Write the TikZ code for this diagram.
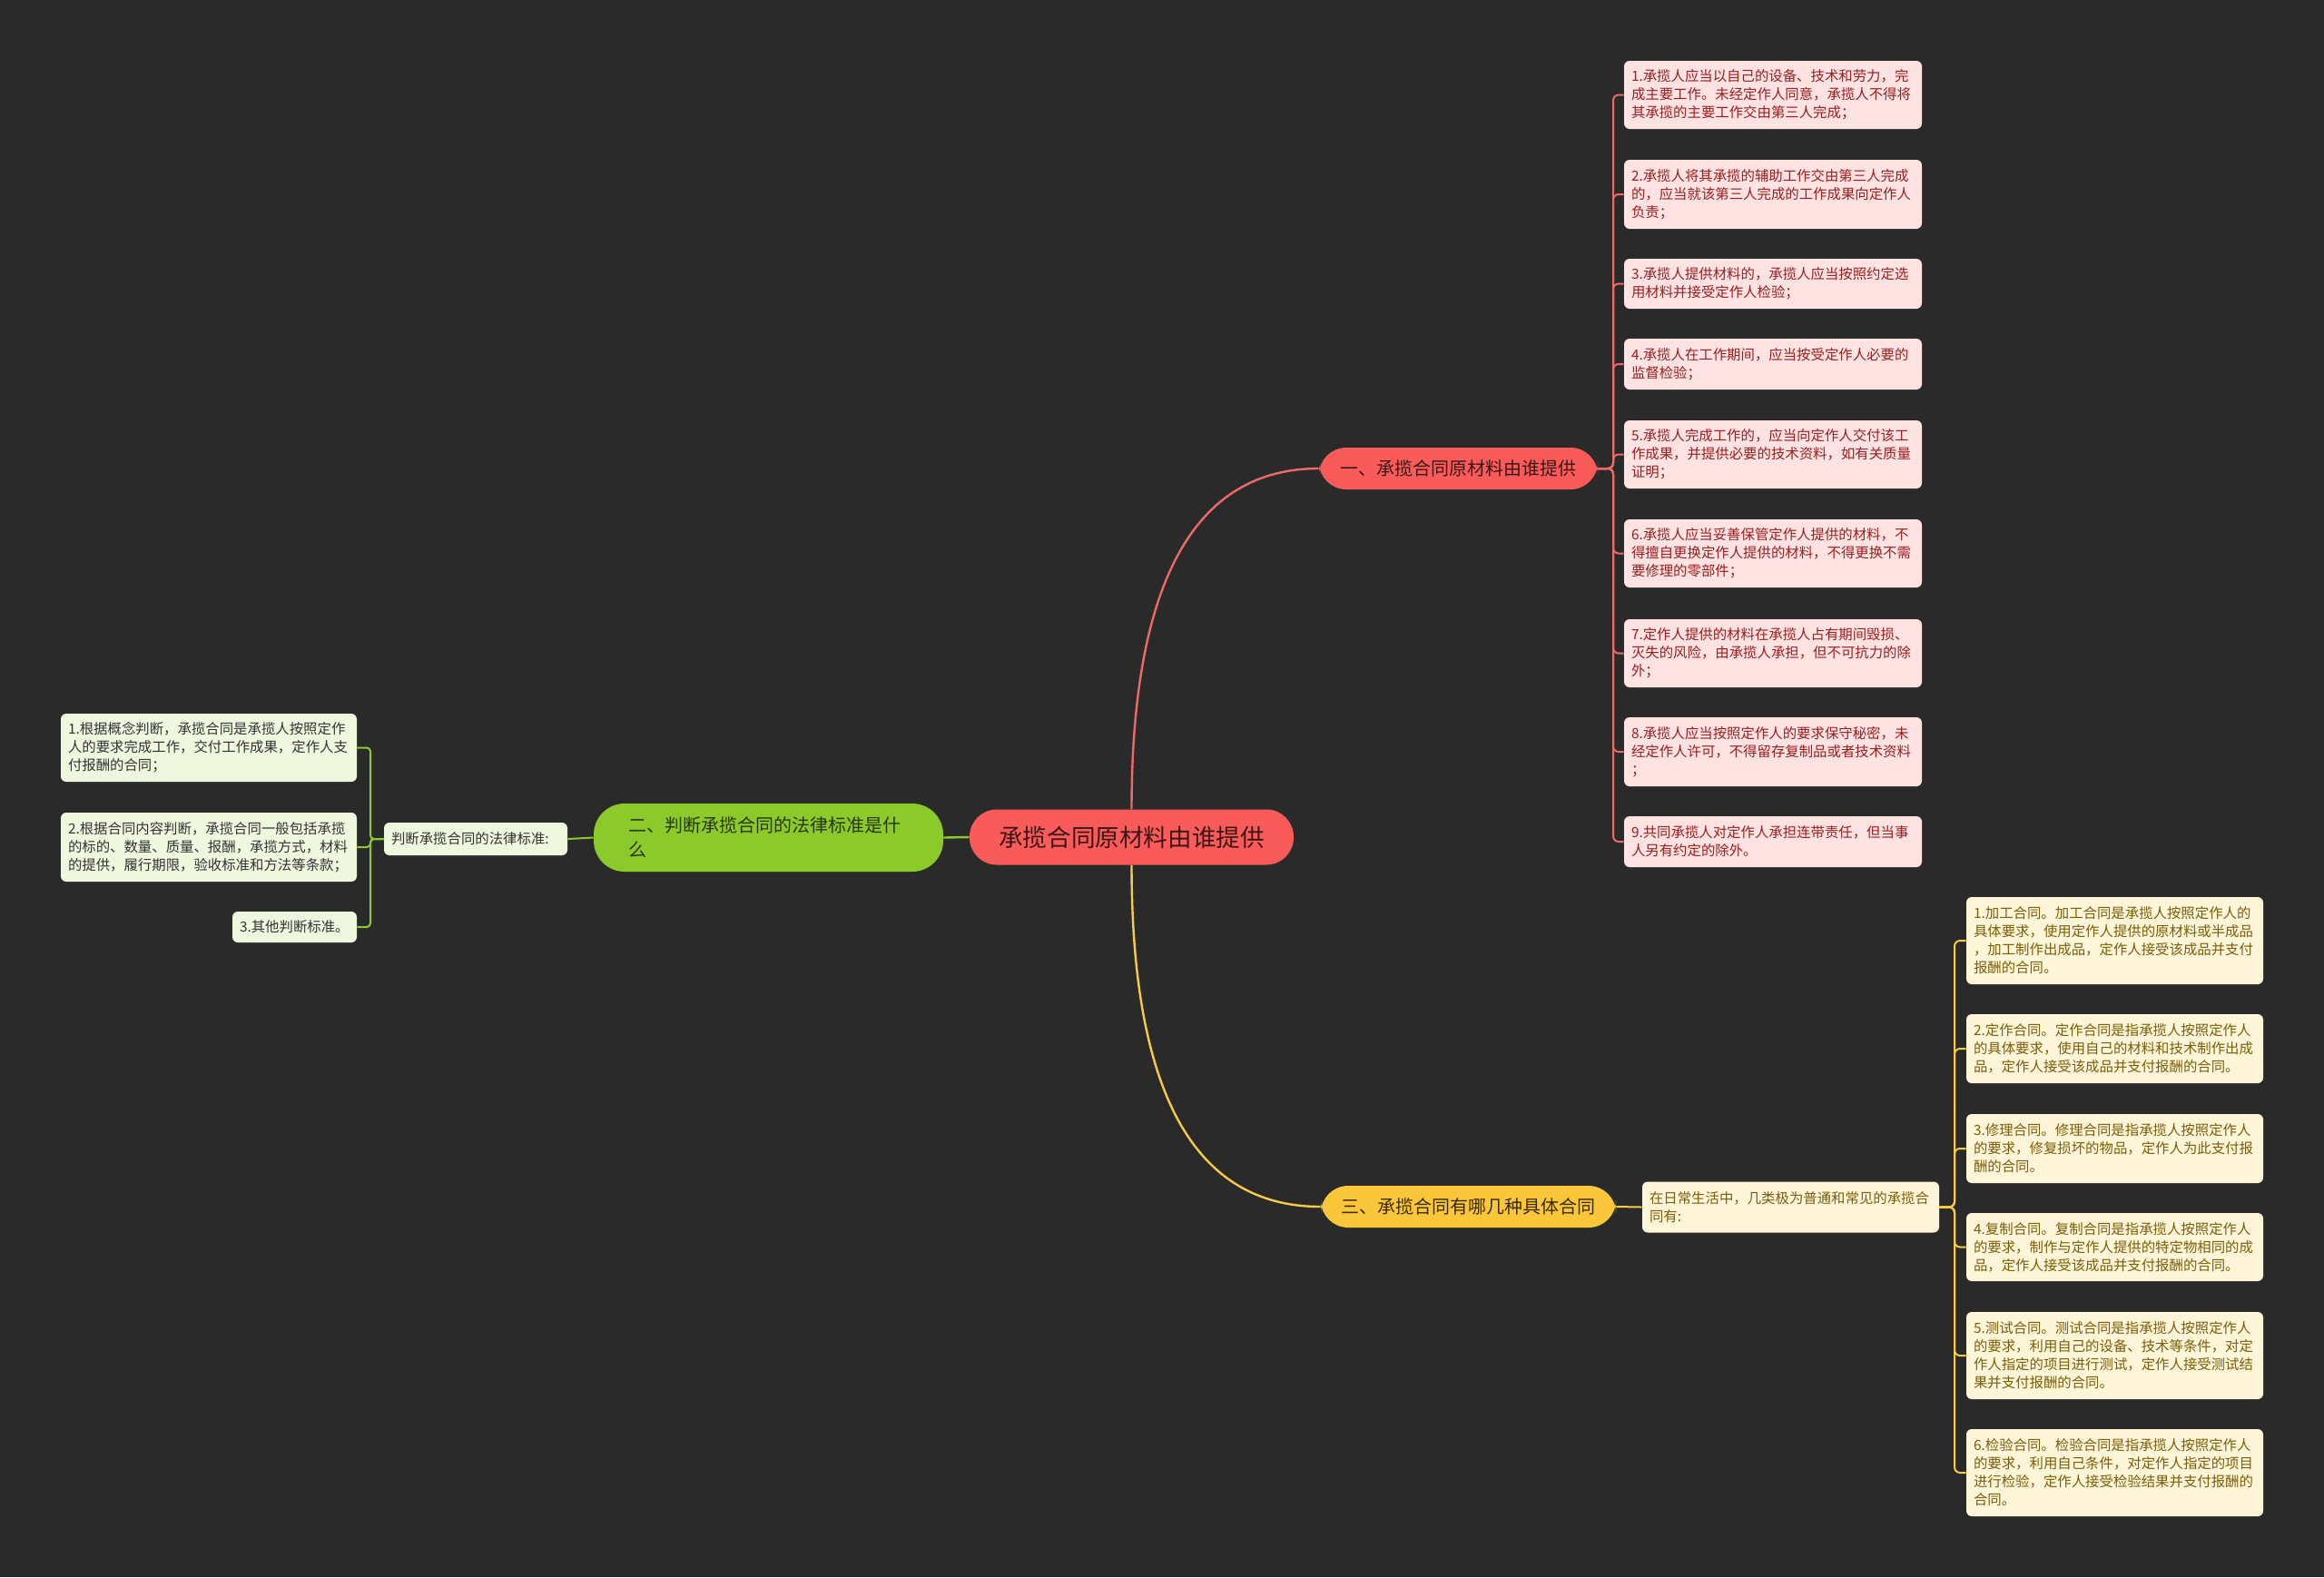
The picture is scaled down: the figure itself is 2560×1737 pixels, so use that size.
\documentclass[tikz,border=0pt]{standalone}
\usepackage{fontspec}
\setmainfont{Noto Sans CJK SC}
\definecolor{bgc}{HTML}{2A2A2A}
\definecolor{redF}{HTML}{F95B5B}
\definecolor{redT}{HTML}{3D1515}
\definecolor{greenF}{HTML}{8CC92A}
\definecolor{greenT}{HTML}{26380C}
\definecolor{yelF}{HTML}{FAC63A}
\definecolor{yelT}{HTML}{3B2A00}
\definecolor{pinkF}{HTML}{FFE2E2}
\definecolor{pinkT}{HTML}{9A1F1F}
\definecolor{creamF}{HTML}{FFF5D8}
\definecolor{creamT}{HTML}{7B5E0B}
\definecolor{lgF}{HTML}{EFF7DF}
\definecolor{lgT}{HTML}{333333}
\definecolor{lnR}{HTML}{EE6A6A}
\definecolor{lnG}{HTML}{8CC92A}
\definecolor{lnY}{HTML}{F6CC44}
\begin{document}
\begin{tikzpicture}[x=0.5pt,y=-0.5pt,
  mainbox/.style={rounded corners=15pt, inner sep=0pt, align=center},
  leafbox/.style={rounded corners=3pt, inner xsep=4pt, inner ysep=0pt, align=left,
    font=\fontsize{7.7}{10}\selectfont},
  leafR/.style={leafbox, fill=pinkF, text=pinkT, text width=156pt},
  leafY/.style={leafbox, fill=creamF, text=creamT, text width=155.5pt},
  leafG/.style={leafbox, fill=lgF, text=lgT, text width=155pt},
  lineR/.style={draw=lnR, line width=1pt},
  lineG/.style={draw=lnG, line width=1pt},
  lineY/.style={draw=lnY, line width=1pt}]
\fill[bgc] (0,0) rectangle (2560,1737);
\useasboundingbox (0,0) rectangle (2560,1737);

% main nodes
\node[mainbox, fill=redF, text=redT, minimum width=178.5pt, minimum height=30.5pt,
  font=\fontsize{13.3}{16}\selectfont] (c) at (1246.5,922) {承揽合同原材料由谁提供};
\node[mainbox, fill=redF, text=redT, minimum width=153.5pt, minimum height=23pt,
  font=\fontsize{10}{13}\selectfont] (b1) at (1606.5,516) {一、承揽合同原材料由谁提供};
\node[mainbox, rounded corners=17pt, fill=greenF, text=greenT, align=left, text width=154pt,
  inner xsep=19.25pt, inner ysep=0pt, minimum height=37.5pt,
  font=\fontsize{10}{13.5}\selectfont] (b2) at (846.5,922.5) {二、判断承揽合同的法律标准是什\\么};
\node[mainbox, fill=yelF, text=yelT, minimum width=162.5pt, minimum height=23pt,
  font=\fontsize{10}{13}\selectfont] (b3) at (1617.5,1329) {三、承揽合同有哪几种具体合同};

% sub nodes
\node[leafbox, fill=creamF, text=creamT, text width=155.5pt, minimum height=28pt] (s3) at (1972.5,1329.5)
  {在日常生活中，几类极为普通和常见的承揽合\\同有:};
\node[leafbox, fill=lgF, text=lgT, text width=93pt, minimum height=18pt] (j) at (524,924)
  {判断承揽合同的法律标准:};

% red leaves
\node[leafR, minimum height=37.5pt] (r1) at (1953,104.5) {1.承揽人应当以自己的设备、技术和劳力，完\\成主要工作。未经定作人同意，承揽人不得将\\其承揽的主要工作交由第三人完成；};
\node[leafR, minimum height=38pt] (r2) at (1953,214) {2.承揽人将其承揽的辅助工作交由第三人完成\\的，应当就该第三人完成的工作成果向定作人\\负责；};
\node[leafR, minimum height=27.5pt] (r3) at (1953,312.5) {3.承揽人提供材料的，承揽人应当按照约定选\\用材料并接受定作人检验；};
\node[leafR, minimum height=28pt] (r4) at (1953,401) {4.承揽人在工作期间，应当按受定作人必要的\\监督检验；};
\node[leafR, minimum height=37.5pt] (r5) at (1953,500.5) {5.承揽人完成工作的，应当向定作人交付该工\\作成果，并提供必要的技术资料，如有关质量\\证明；};
\node[leafR, minimum height=37.5pt] (r6) at (1953,609.5) {6.承揽人应当妥善保管定作人提供的材料，不\\得擅自更换定作人提供的材料，不得更换不需\\要修理的零部件；};
\node[leafR, minimum height=37.5pt] (r7) at (1953,719.5) {7.定作人提供的材料在承揽人占有期间毁损、\\灭失的风险，由承揽人承担，但不可抗力的除\\外；};
\node[leafR, minimum height=38pt] (r8) at (1953,828) {8.承揽人应当按照定作人的要求保守秘密，未\\经定作人许可，不得留存复制品或者技术资料\\；};
\node[leafR, minimum height=28pt] (r9) at (1953,927) {9.共同承揽人对定作人承担连带责任，但当事\\人另有约定的除外。};

% yellow leaves
\node[leafY, minimum height=48pt] (y1) at (2329.5,1036) {1.加工合同。加工合同是承揽人按照定作人的\\具体要求，使用定作人提供的原材料或半成品\\，加工制作出成品，定作人接受该成品并支付\\报酬的合同。};
\node[leafY, minimum height=38pt] (y2) at (2329.5,1155) {2.定作合同。定作合同是指承揽人按照定作人\\的具体要求，使用自己的材料和技术制作出成\\品，定作人接受该成品并支付报酬的合同。};
\node[leafY, minimum height=38pt] (y3) at (2329.5,1265) {3.修理合同。修理合同是指承揽人按照定作人\\的要求，修复损坏的物品，定作人为此支付报\\酬的合同。};
\node[leafY, minimum height=37.5pt] (y4) at (2329.5,1373.5) {4.复制合同。复制合同是指承揽人按照定作人\\的要求，制作与定作人提供的特定物相同的成\\品，定作人接受该成品并支付报酬的合同。};
\node[leafY, minimum height=48pt] (y5) at (2329.5,1493) {5.测试合同。测试合同是指承揽人按照定作人\\的要求，利用自己的设备、技术等条件，对定\\作人指定的项目进行测试，定作人接受测试结\\果并支付报酬的合同。};
\node[leafY, minimum height=48pt] (y6) at (2329.5,1622) {6.检验合同。检验合同是指承揽人按照定作人\\的要求，利用自己条件，对定作人指定的项目\\进行检验，定作人接受检验结果并支付报酬的\\合同。};

% green leaves
\node[leafG, minimum height=37.5pt] (g1) at (230,823.5) {1.根据概念判断，承揽合同是承揽人按照定作\\人的要求完成工作，交付工作成果，定作人支\\付报酬的合同；};
\node[leafG, minimum height=38pt] (g2) at (230,933) {2.根据合同内容判断，承揽合同一般包括承揽\\的标的、数量、质量、报酬，承揽方式，材料\\的提供，履行期限，验收标准和方法等条款；};
\node[leafbox, fill=lgF, text=lgT, text width=60.5pt, minimum height=17pt] (g3) at (324.5,1021) {3.其他判断标准。};

% main connectors
\draw[lineR, line width=1.2pt] (c.north) .. controls (1246.5,641) and (1316,516) .. (b1.west);
\draw[lineY, line width=1.2pt] (c.south) .. controls (1246.5,1204) and (1316,1329) .. (b3.west);
\draw[lineG, line width=1.2pt] (c.west) -- (b2.east);
\draw[lineG] (b2.west) -- (j.east);
\draw[lineY] (b3.east) -- (s3.west);

% brackets
\foreach \n in {r1,r2,r3,r4,r5,r6,r7,r8,r9}
  \draw[lineR, rounded corners=3pt] (b1.east) -- (1777,516) |- (\n.west);
\foreach \n in {y1,y2,y3,y4,y5,y6}
  \draw[lineY, rounded corners=3pt] (s3.east) -- (2153,1329.5) |- (\n.west);
\foreach \n in {g1,g2,g3}
  \draw[lineG, rounded corners=2pt] (j.west) -- (408,924) |- (\n.east);
\end{tikzpicture}
\end{document}
